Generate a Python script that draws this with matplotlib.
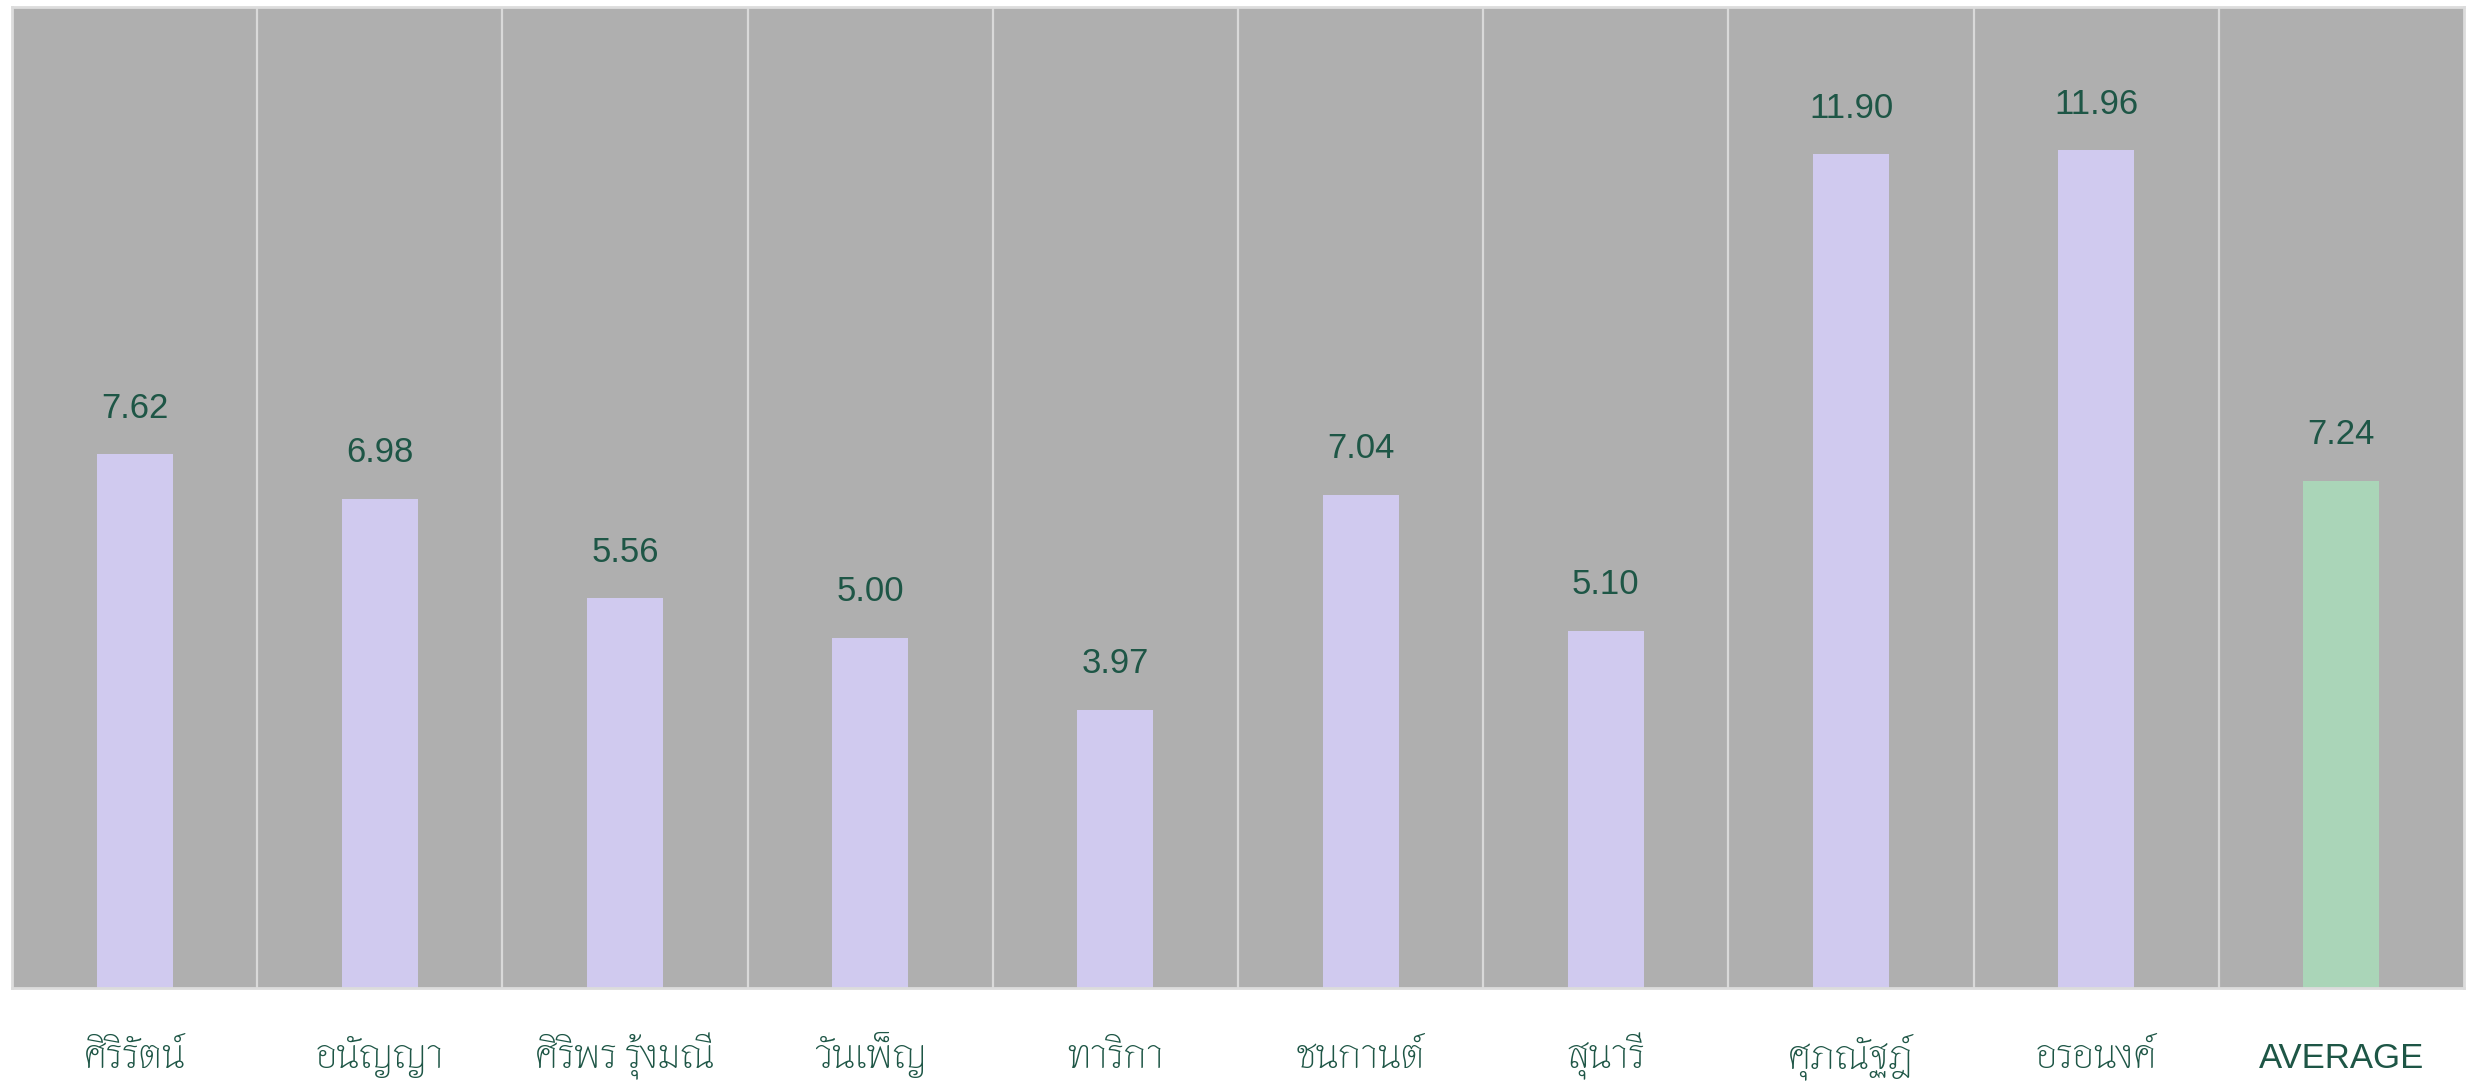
import matplotlib
matplotlib.use("Agg")
import matplotlib.pyplot as plt

categories = ["ศิริรัตน์", "อนัญญา", "ศิริพร รุ้งมณี", "วันเพ็ญ", "ทาริกา",
              "ชนกานต์", "สุนารี", "ศุภณัฐฎ์", "อรอนงค์", "AVERAGE"]
values = [7.62, 6.98, 5.56, 5.00, 3.97, 7.04, 5.10, 11.90, 11.96, 7.24]
value_labels = ["7.62", "6.98", "5.56", "5.00", "3.97", "7.04", "5.10", "11.90", "11.96", "7.24"]

BG = "#afafaf"
BAR = "#d0caef"
AVG = "#aad5b8"
TXT = "#1e5646"

fig = plt.figure(figsize=(24.77, 10.81), dpi=100)
ax = fig.add_axes([12 / 2477, 1 - 988 / 1081, (2464 - 12) / 2477, (988 - 7) / 1081])
ax.set_facecolor(BG)

x = list(range(len(categories)))
colors = [BAR] * (len(categories) - 1) + [AVG]
ax.bar(x, values, width=0.31, color=colors, zorder=2)

for xi, v, s in zip(x, values, value_labels):
    ax.text(xi, v + 0.52, s, ha="center", va="baseline", fontsize=25,
            color=TXT, family=["Liberation Sans", "DejaVu Sans"], zorder=3)

ax.set_xlim(-0.5, len(categories) - 0.5)
ax.set_ylim(0, 14)
ax.set_yticks([])
ax.set_xticks(x)
ax.set_xticklabels(categories, color=TXT)
ax.tick_params(axis="x", length=0, pad=57.6)
for lab in ax.get_xticklabels():
    lab.set_va("baseline")
    if lab.get_text().isascii():
        lab.set_family(["Liberation Sans", "DejaVu Sans"])
        lab.set_fontsize(25)
    else:
        lab.set_family(["Thasadith", "DejaVu Sans"])
        lab.set_fontsize(30)
for b in [i + 0.5 for i in range(len(categories) - 1)]:
    ax.axvline(b, color="#d9d9d9", lw=1.6, zorder=1)
for s in ax.spines.values():
    s.set_color("#dcdcdc")
    s.set_linewidth(2)

fig.savefig("out.png", dpi=100, facecolor="white")
